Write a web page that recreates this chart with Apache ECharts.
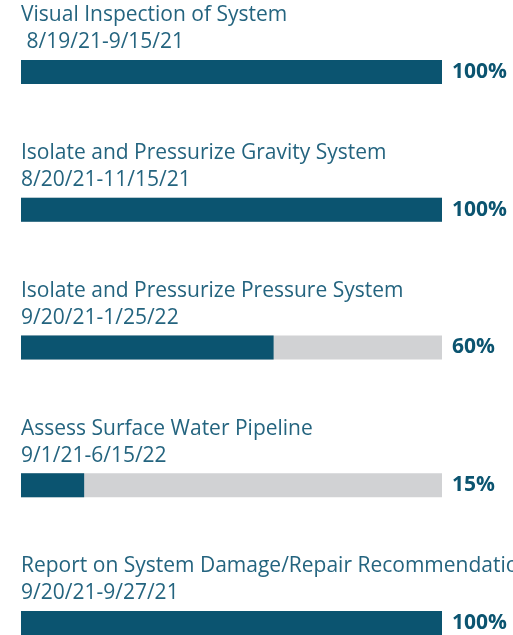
<!DOCTYPE html>
<html>
<head>
<meta charset="utf-8">
<script src="https://cdn.jsdelivr.net/npm/echarts@6/dist/echarts.min.js"></script>
<style>html,body{margin:0;padding:0;background:#fff}#c{width:513px;height:635px}</style>
</head>
<body>
<div id="c"></div>
<script>
const tasks = [
  "Visual Inspection of System",
  "Isolate and Pressurize Gravity System",
  "Isolate and Pressurize Pressure System",
  "Assess Surface Water Pipeline",
  "Report on System Damage/Repair Recommendation"
];
const dateRanges = [
  " 8/19/21-9/15/21",
  "8/20/21-11/15/21",
  "9/20/21-1/25/22",
  "9/1/21-6/15/22",
  "9/20/21-9/27/21"
];
const percentComplete = [100, 100, 60, 15, 100];
const trackMax = 100;

const chart = echarts.init(document.getElementById('c'), null, {renderer: 'canvas'});
const FONT = "'Open Sans', sans-serif";
chart.setOption({
  animation: false,
  grid: {left: 21, right: 71, top: 72, bottom: 12, containLabel: false},
  xAxis: {type: 'value', min: 0, max: trackMax, show: false},
  yAxis: {type: 'category', data: tasks, inverse: true, boundaryGap: false, show: false},
  series: [
    {
      name: 'track', type: 'bar', barWidth: 24, silent: true,
      data: tasks.map(() => trackMax),
      itemStyle: {color: '#d1d2d4'},
      label: {
        show: true, position: 'right', distance: 10,
        formatter: p => percentComplete[p.dataIndex] + '%',
        color: '#0b5470', fontFamily: FONT, fontWeight: 'bold', fontSize: 21
      }
    },
    {
      name: 'progress', type: 'bar', barWidth: 24, barGap: '-100%', silent: true,
      data: percentComplete,
      itemStyle: {color: '#0b5470'},
      label: {
        show: true, position: [0, -58], align: 'left', verticalAlign: 'top',
        formatter: p => tasks[p.dataIndex] + '\n' + dateRanges[p.dataIndex],
        color: '#24647f', fontFamily: FONT, fontSize: 21, lineHeight: 27
      }
    }
  ]
});
</script>
</body>
</html>
